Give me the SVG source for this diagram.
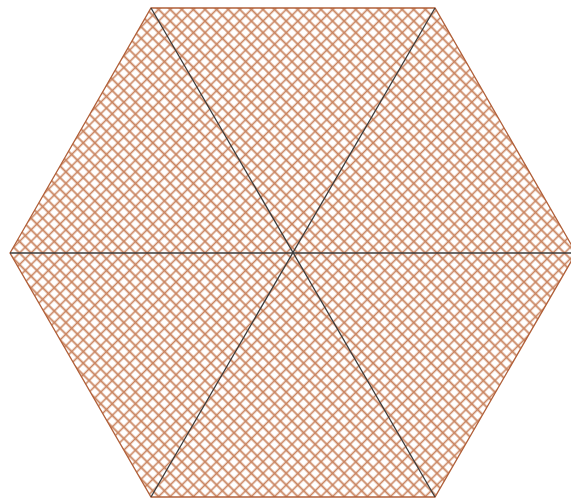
<svg xmlns="http://www.w3.org/2000/svg" width="571" height="499" viewBox="0 0 571 499">
<defs>
<pattern id="hatch" patternUnits="userSpaceOnUse" width="8.2" height="8.2" patternTransform="translate(292 253) rotate(45)">
<path d="M0 4.1H8.2M4.1 0V8.2" stroke="#c9835e" stroke-width="1.6" fill="none"/>
</pattern>
<style>
.hex{fill:url(#hatch);stroke:#b0603a;stroke-width:1.3}
.diag{stroke:#3a3a3a;stroke-width:1.3;fill:none}
</style>
</defs>
<rect width="571" height="499" fill="#ffffff"/>
<g id="hexagon">
<polygon class="hex" points="10,253 151,8 435,8 576,253 435,497 151,497"/>
</g>
<g id="connectors">
<line class="diag" x1="151" y1="8" x2="435" y2="497"/>
<line class="diag" x1="435" y1="8" x2="151" y2="497"/>
<line class="diag" x1="10" y1="253" x2="576" y2="253"/>
</g>
</svg>
